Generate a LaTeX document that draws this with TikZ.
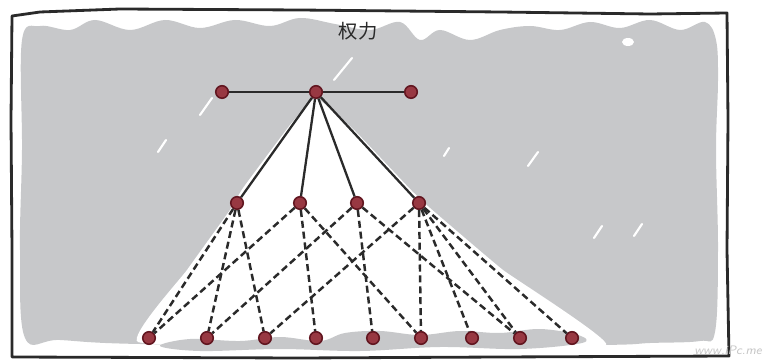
\documentclass[tikz,border=0pt]{standalone}
\usepackage{fontspec}
\newfontfamily\cjkfont{Noto Sans CJK SC}
\usetikzlibrary{positioning}
\definecolor{ScribbleGray}{RGB}{199,200,202}
\definecolor{NodeRed}{RGB}{152,56,66}
\definecolor{NodeRim}{RGB}{98,22,32}
\definecolor{InkGray}{RGB}{42,42,42}

\tikzset{
  unit/.style={circle, fill=NodeRed, draw=NodeRim, line width=0.9pt, inner sep=0pt, minimum size=0.25cm},
  link/.style={InkGray, line width=1.3pt},
  weak/.style={InkGray, line width=1.4pt, dash pattern=on 4pt off 2.2pt},
  streak/.style={white, line width=1.2pt, line cap=round}
}

\begin{document}
\begin{tikzpicture}[x=0.02cm, y=-0.02cm]
      \useasboundingbox (0,0) rectangle (771,361);

      % Scribbled background
      \fill[ScribbleGray] plot[smooth cycle, tension=0.6] coordinates {
        (22,40) (40,26) (70,30) (95,20) (130,30) (165,20) (200,28) (235,20)
        (270,26) (300,18) (335,24) (370,30) (400,22) (420,40) (440,30) (470,40)
        (500,30) (530,26) (560,30) (590,22) (620,28) (650,20) (680,30) (705,22)
        (716,40) (718,80) (716,150) (718,250) (715,332) (700,341) (650,343)
        (600,345) (380,346) (140,344) (60,340) (25,338) (20,250) (22,150)};

      % Open area below the top unit
      \fill[white] plot[smooth cycle, tension=0.2] coordinates {
        (316,98) (290,125) (243,188) (230,210) (187,270) (138,342) (380,349)
        (606,345) (503,270) (430,208) (411,190) (354,130)};

      % Shadows under the bottom row
      \fill[ScribbleGray] plot[smooth cycle, tension=0.6] coordinates {
        (160,346) (190,339) (240,341) (280,337) (320,341) (345,333) (380,331)
        (420,335) (460,331) (500,333) (540,329) (578,335) (582,343) (520,349)
        (440,347) (360,351) (280,349) (200,351)};

      % White streaks
      \draw[streak] (200,115) -- (212,98);
      \draw[streak] (158,152) -- (166,140);
      \draw[streak] (334,80) -- (352,58);
      \draw[streak] (528,166) -- (538,152);
      \draw[streak] (594,238) -- (602,226);
      \draw[streak] (634,236) -- (642,224);
      \draw[streak] (444,156) -- (449,148);
      \fill[white] (628,42) ellipse (6 and 4);

      % Frame
      \draw[InkGray, line width=1.6pt, line join=round]
        (12,16) -- (40,12) -- (120,9) -- (300,10) -- (500,12) -- (650,14)
        -- (727,13) -- (728,120) -- (727,250) -- (729,356) -- (500,357)
        -- (300,358) -- (12,357) -- (12,250) -- (11,120) -- cycle;

      % Title
      \node[font=\cjkfont\fontsize{11}{11}\selectfont, text=InkGray] (title) at (358,31) {权力};

      % Units
      \foreach \n/\x/\y in {t1/222/92, t2/316/92, t3/411/92,
                            m1/237/203, m2/300/203, m3/357/203, m4/419/203} {
        \node[unit] (\n) at (\x,\y) {};
      }
      \foreach \x [count=\i] in {149,207,265,316,373,421,472,520,572} {
        \node[unit] (b\i) at (\x,338) {};
      }

      % Solid links
      \draw[link] (t1) -- (t2) -- (t3);
      \foreach \m in {1,...,4} {
        \draw[link] (t2) -- (m\m);
      }

      % Dashed links
      \foreach \m/\b in {1/1, 1/2, 1/3, 2/1, 2/4, 2/6, 3/2, 3/5, 3/8,
                         4/3, 4/6, 4/7, 4/8, 4/9} {
        \draw[weak] (m\m) -- (b\b);
      }

      % Watermark
      \node[anchor=base east, font=\sffamily\itshape\fontsize{7}{7}\selectfont, text=gray!45] (mark) at (768,355) {www.iPc.me};
\end{tikzpicture}
\end{document}
